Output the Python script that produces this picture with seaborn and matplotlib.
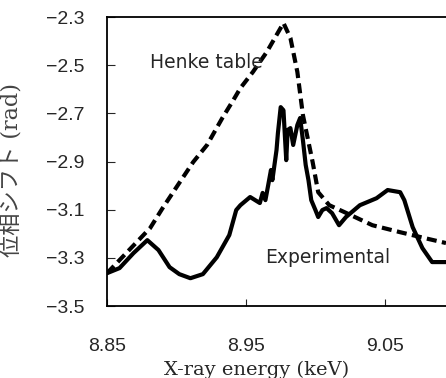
import numpy as np
import pandas as pd
import matplotlib
matplotlib.use("Agg")
import matplotlib.pyplot as plt
import seaborn as sns

# --- datos ---
henke_e = [8.850, 8.881, 8.890, 8.900, 8.912, 8.922, 8.933, 8.941, 8.946, 8.955,
           8.965, 8.972, 8.977, 8.982, 8.987, 8.991, 8.998, 9.002, 9.010, 9.021,
           9.041, 9.061, 9.082, 9.094]
henke_phi = [-3.363, -3.176, -3.093, -3.006, -2.902, -2.831, -2.719, -2.644, -2.595, -2.528,
             -2.445, -2.375, -2.325, -2.387, -2.528, -2.707, -2.902, -3.027, -3.081, -3.110,
             -3.164, -3.193, -3.222, -3.238]

exp_e = [8.850, 8.859, 8.869, 8.879, 8.887, 8.895, 8.902, 8.910, 8.919, 8.929,
         8.938, 8.943, 8.946, 8.953, 8.960, 8.962, 8.964, 8.966, 8.968, 8.969,
         8.972, 8.973, 8.975, 8.977, 8.979, 8.980, 8.982, 8.984, 8.987, 8.989,
         8.991, 8.993, 8.995, 8.997, 9.000, 9.002, 9.005, 9.008, 9.012, 9.017,
         9.022, 9.032, 9.044, 9.052, 9.061, 9.064, 9.070, 9.077, 9.084, 9.094]
exp_phi = [-3.363, -3.342, -3.280, -3.226, -3.267, -3.338, -3.367, -3.384, -3.367, -3.297,
           -3.205, -3.101, -3.081, -3.047, -3.072, -3.030, -3.060, -2.998, -2.935, -2.977,
           -2.852, -2.782, -2.674, -2.687, -2.894, -2.769, -2.761, -2.831, -2.748, -2.719,
           -2.811, -2.914, -2.977, -3.060, -3.101, -3.130, -3.101, -3.093, -3.114, -3.164,
           -3.130, -3.081, -3.052, -3.018, -3.027, -3.060, -3.172, -3.259, -3.317, -3.317]

x_ticks = [8.85, 8.95, 9.05]
y_ticks = [-2.3, -2.5, -2.7, -2.9, -3.1, -3.3, -3.5]

henke = pd.DataFrame({"E": henke_e, "phi": henke_phi})
exp = pd.DataFrame({"E": exp_e, "phi": exp_phi})

sns.set_style("white")
plt.rcParams["font.family"] = ["Liberation Sans"]
plt.rcParams["axes.unicode_minus"] = True

fig = plt.figure(figsize=(4.46, 3.78), dpi=100)
ax = fig.add_axes([0.240, 0.190, 0.760, 0.765])

sns.lineplot(data=henke, x="E", y="phi", ax=ax, color="black", lw=3.0,
             linestyle=(0, (2.4, 1.3)), sort=False, estimator=None)
sns.lineplot(data=exp, x="E", y="phi", ax=ax, color="black", lw=3.0,
             sort=False, estimator=None)

ax.set_xlim(8.85, 9.094)
ax.set_ylim(-3.5, -2.3)
ax.set_xticks(x_ticks)
ax.set_xticklabels([f"{v:.2f}" for v in x_ticks], family="Liberation Sans", fontsize=14)
ax.set_yticks(y_ticks)
ax.set_yticklabels([f"\u2212{abs(v):.1f}" for v in y_ticks], family="Liberation Sans",
                   fontsize=14)

for s in ["left", "bottom", "top"]:
    ax.spines[s].set_color("black")
    ax.spines[s].set_linewidth(1.3)
ax.spines["right"].set_visible(False)

ax.tick_params(axis="y", direction="in", length=6, width=0.8, pad=16, left=True)
ax.tick_params(axis="x", direction="in", length=5, width=0.8, pad=23, bottom=True)

ax.set_xlabel("X-ray energy (keV)", family=["DejaVu Serif"], fontsize=14)
ax.xaxis.set_label_coords(0.44, -0.187)
ax.set_ylabel("位相シフト (rad)", family=["DejaVu Serif", "Noto Sans CJK JP"],
              fontsize=16, color="#444444")
ax.yaxis.set_label_coords(-0.25, 0.47)

ax.text(8.881, -2.487, "Henke table", family="DejaVu Sans", fontsize=13.5,
        va="center", ha="left")
ax.text(8.964, -3.300, "Experimental", family="DejaVu Sans", fontsize=13.5,
        va="center", ha="left")

fig.savefig("out.png", dpi=100)
